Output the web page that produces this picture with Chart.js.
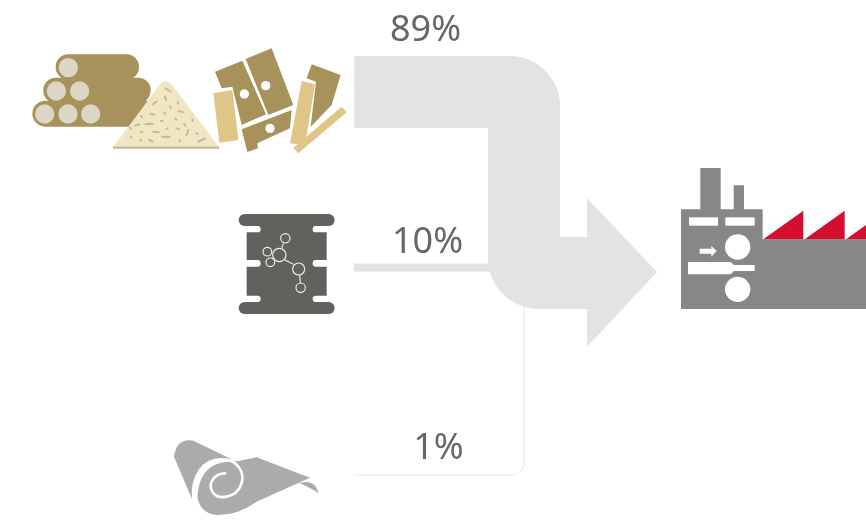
<!DOCTYPE html>
<html><head><meta charset="utf-8">
<style>html,body{margin:0;padding:0;background:#fff;overflow:hidden}canvas{display:block}</style>
<script src="https://cdn.jsdelivr.net/npm/chart.js@4"></script>
</head><body><canvas id="c" width="866" height="521"></canvas>
<script>
const sources = ['Wood', 'Chemicals', 'Other'];
const shares = [89, 10, 1];
const shareLabels = ['89%', '10%', '1%'];

const GREY = '#E3E3E3', GOLD = '#A8925C', LIGHT = '#DFC587', SAND = '#F0E6C4', CHEM = '#63615E', ROLL = '#ABABAB', FACT = '#878787', RED = '#D30F2D';
const BAND_PER_UNIT = 72 / 89;

function poly(ctx, pts, color) {
  ctx.beginPath();
  pts.forEach((p, i) => i ? ctx.lineTo(p[0], p[1]) : ctx.moveTo(p[0], p[1]));
  ctx.closePath(); ctx.fillStyle = color; ctx.fill();
}
function rr(ctx, x0, y0, x1, y1, r, color) {
  ctx.beginPath(); ctx.roundRect(x0, y0, x1 - x0, y1 - y0, r); ctx.fillStyle = color; ctx.fill();
}
function disc(ctx, x, y, r, color) {
  ctx.beginPath(); ctx.arc(x, y, r, 0, 7); ctx.fillStyle = color; ctx.fill();
}
function group(ctx, X, Y, ox, oy, fn) {
  ctx.save(); ctx.translate(X(ox), Y(oy)); ctx.scale(1 / 3, 1 / 3); fn(); ctx.restore();
}

function woodIcons(ctx) {
  ctx.fillStyle = GOLD;
  ctx.beginPath();
  ctx.roundRect(107, 58, 250, 76, 37);
  ctx.roundRect(70, 128, 322, 76, 37);
  ctx.roundRect(37, 197, 383, 78, 39);
  ctx.fill('nonzero');
  [[145, 98], [109, 168], [179, 168], [74, 237], [144, 237], [212, 237]].forEach(p => disc(ctx, p[0], p[1], 29, '#DDD6C5'));
  // sawdust pile
  ctx.beginPath(); ctx.moveTo(280, 336); ctx.lineTo(420, 148); ctx.quadraticCurveTo(437, 130, 455, 148); ctx.lineTo(597, 336); ctx.closePath();
  ctx.fillStyle = SAND; ctx.fill();
  ctx.fillStyle = '#C4B28F'; ctx.fillRect(279, 335, 318, 6);
  ctx.strokeStyle = '#C9B89B'; ctx.lineWidth = 6; ctx.lineCap = 'round';
  [[436,160,452,170],[435,185,438,195],[398,208,410,200],[473,202,475,205],[450,215,452,218],[475,228,490,232],[392,236,403,240],[432,233,435,235],[363,243,366,246],[465,250,470,254],[517,252,518,258],[345,272,358,268],[376,268,398,266],[423,258,428,258],[493,268,496,272],[330,278,333,282],[362,290,368,292],[400,290,416,292],[470,280,478,283],[505,285,500,300],[427,305,448,306],[332,305,334,307],[360,315,363,317],[388,315,398,320],[478,320,480,315],[535,320,555,310],[530,295,533,297],[440,282,443,280]].forEach(s => {
    ctx.beginPath(); ctx.moveTo(s[0], s[1]); ctx.lineTo(s[2], s[3]); ctx.stroke();
  });
  // board offcuts
  poly(ctx, [[585,110],[667,77],[738,238],[665,270],[637,155],[605,160]], GOLD);
  poly(ctx, [[677,72],[755,40],[820,210],[745,240]], GOLD);
  poly(ctx, [[665,283],[815,225],[810,280],[712,325],[714,340],[682,351]], GOLD);
  poly(ctx, [[580,175],[637,165],[655,315],[598,323]], LIGHT);
  [[673,177],[737,152],[750,280]].forEach(p => disc(ctx, p[0], p[1], 14, '#fff'));
  poly(ctx, [[875,88],[962,120],[935,210],[872,275],[888,140],[860,130]], GOLD);
  poly(ctx, [[845,138],[885,148],[855,330],[810,325]], LIGHT);
  poly(ctx, [[965,215],[980,232],[835,355],[820,338]], LIGHT);
}

function chemIcon(ctx) {
  ctx.fillStyle = CHEM; ctx.fillRect(260, 55, 240, 245);
  [[63,82],[165,185],[272,291]].forEach(b => {
    rr(ctx, 230, b[0], 302, b[1], 9.5, '#fff');
    rr(ctx, 458, b[0], 530, b[1], 9.5, '#fff');
  });
  rr(ctx, 236, 27, 524, 63, 18, CHEM);
  rr(ctx, 236, 291, 524, 327, 18, CHEM);
  ctx.strokeStyle = '#EDEDED'; ctx.lineWidth = 3.5;
  [[370,115,365,130],[375,165,400,178],[419,210,421,234]].forEach(s => {
    ctx.beginPath(); ctx.moveTo(s[0], s[1]); ctx.lineTo(s[2], s[3]); ctx.stroke();
  });
  [[376,100,14],[358,150,20],[322,140,13],[331,172,13],[416,192,18],[422,248,14]].forEach(c => {
    ctx.beginPath(); ctx.arc(c[0], c[1], c[2], 0, 7); ctx.stroke();
  });
}

function rollIcon(ctx) {
  ctx.fillStyle = ROLL;
  ctx.beginPath(); ctx.moveTo(42, 95); ctx.quadraticCurveTo(50, 38, 100, 47); ctx.lineTo(215, 103);
  ctx.quadraticCurveTo(130, 100, 105, 160); ctx.quadraticCurveTo(92, 190, 100, 232); ctx.closePath(); ctx.fill();
  ctx.beginPath(); ctx.moveTo(112, 215); ctx.quadraticCurveTo(118, 125, 190, 112); ctx.lineTo(235, 108); ctx.lineTo(290, 97);
  ctx.lineTo(450, 158); ctx.lineTo(290, 230); ctx.quadraticCurveTo(230, 272, 170, 270); ctx.quadraticCurveTo(120, 264, 112, 215); ctx.closePath(); ctx.fill();
  ctx.beginPath(); ctx.moveTo(418, 175); ctx.quadraticCurveTo(465, 160, 476, 205); ctx.quadraticCurveTo(445, 185, 418, 175); ctx.closePath(); ctx.fill();
  ctx.strokeStyle = '#fff'; ctx.lineWidth = 8; ctx.lineCap = 'round';
  ctx.beginPath(); ctx.moveTo(100, 228); ctx.bezierCurveTo(93, 150, 130, 103, 185, 103);
  ctx.bezierCurveTo(240, 103, 255, 150, 243, 180); ctx.bezierCurveTo(228, 218, 175, 228, 157, 200);
  ctx.bezierCurveTo(143, 175, 163, 145, 195, 145); ctx.stroke();
}

function factoryIcon(ctx) {
  ctx.fillStyle = FACT;
  ctx.beginPath();
  ctx.rect(33, 148, 245, 299);
  ctx.rect(270, 238, 318, 209);
  ctx.rect(91, 24, 61, 130);
  ctx.rect(191, 76, 31, 78);
  ctx.fill();
  [[280, 400], [404, 524], [528, 648]].forEach(t => poly(ctx, [[t[0], 238], [t[1], 152], [t[1], 238]], RED));
  ctx.fillStyle = '#fff';
  ctx.fillRect(57, 172, 87, 25); ctx.fillRect(166, 172, 88, 25);
  disc(ctx, 203, 261, 38, '#fff'); disc(ctx, 203, 388, 38, '#fff');
  poly(ctx, [[89,266],[124,266],[124,258],[140,273],[124,290],[124,281],[89,281]], '#fff');
  poly(ctx, [[54,306],[182,306],[192,315],[254,315],[254,333],[192,333],[182,343],[54,343]], '#fff');
}

const flowPlugin = {
  id: 'flow',
  afterDatasetsDraw(chart) {
    const ctx = chart.ctx, X = v => chart.scales.x.getPixelForValue(v), Y = v => chart.scales.y.getPixelForValue(v);
    const pts = chart.data.datasets[0].data;
    const bands = pts.map(p => p.x * BAND_PER_UNIT);
    ctx.save();

    // smallest flow: thin rounded route
    ctx.strokeStyle = '#E8E8E8'; ctx.lineWidth = bands[2] * 1.25;
    ctx.beginPath(); ctx.moveTo(X(354), Y(475)); ctx.lineTo(X(512), Y(475));
    ctx.arcTo(X(524), Y(475), X(524), Y(463), 12); ctx.lineTo(X(524), Y(300)); ctx.stroke();

    // middle flow
    ctx.fillStyle = GREY;
    ctx.fillRect(X(354), Y(267.5) - bands[1] / 2, X(492) - X(354), bands[1]);

    // main flow with arrow head
    const top = 56, bot = top + bands[0];
    ctx.beginPath();
    ctx.moveTo(X(354), Y(top)); ctx.lineTo(X(510), Y(top));
    ctx.arcTo(X(560), Y(top), X(560), Y(106), 50);
    ctx.lineTo(X(560), Y(237)); ctx.lineTo(X(587), Y(237)); ctx.lineTo(X(587), Y(198));
    ctx.lineTo(X(657), Y(272)); ctx.lineTo(X(587), Y(347)); ctx.lineTo(X(587), Y(309));
    ctx.lineTo(X(540), Y(309));
    ctx.arcTo(X(488), Y(309), X(488), Y(258), 51);
    ctx.lineTo(X(488), Y(bot)); ctx.lineTo(X(354), Y(bot)); ctx.closePath();
    ctx.fillStyle = GREY; ctx.fill();

    group(ctx, X, Y, 20, 35, () => woodIcons(ctx));
    group(ctx, X, Y, 160, 205, () => chemIcon(ctx));
    group(ctx, X, Y, 160, 425, () => rollIcon(ctx));
    group(ctx, X, Y, 670, 160, () => factoryIcon(ctx));

    // percentage labels
    ctx.fillStyle = '#666666'; ctx.textAlign = 'center'; ctx.textBaseline = 'alphabetic';
    ctx.font = '400 36px "Noto Sans", sans-serif';
    [[425.5, 41], [427.5, 253], [438.5, 459]].forEach((p, i) => ctx.fillText(shareLabels[i], X(p[0]), Y(p[1])));
    ctx.restore();
  }
};

new Chart(document.getElementById('c'), {
  type: 'scatter',
  data: {
    labels: sources,
    datasets: [{ label: 'Share', data: shares.map((s, i) => ({ x: s, y: i })), showLine: false, pointRadius: 0 }]
  },
  options: {
    responsive: false, animation: false, devicePixelRatio: 1,
    layout: { padding: 0 },
    plugins: { legend: { display: false }, tooltip: { enabled: false } },
    events: [],
    scales: {
      x: { type: 'linear', min: 0, max: 866, display: false },
      y: { type: 'linear', min: 0, max: 521, reverse: true, display: false }
    }
  },
  plugins: [flowPlugin]
});
</script></body></html>
